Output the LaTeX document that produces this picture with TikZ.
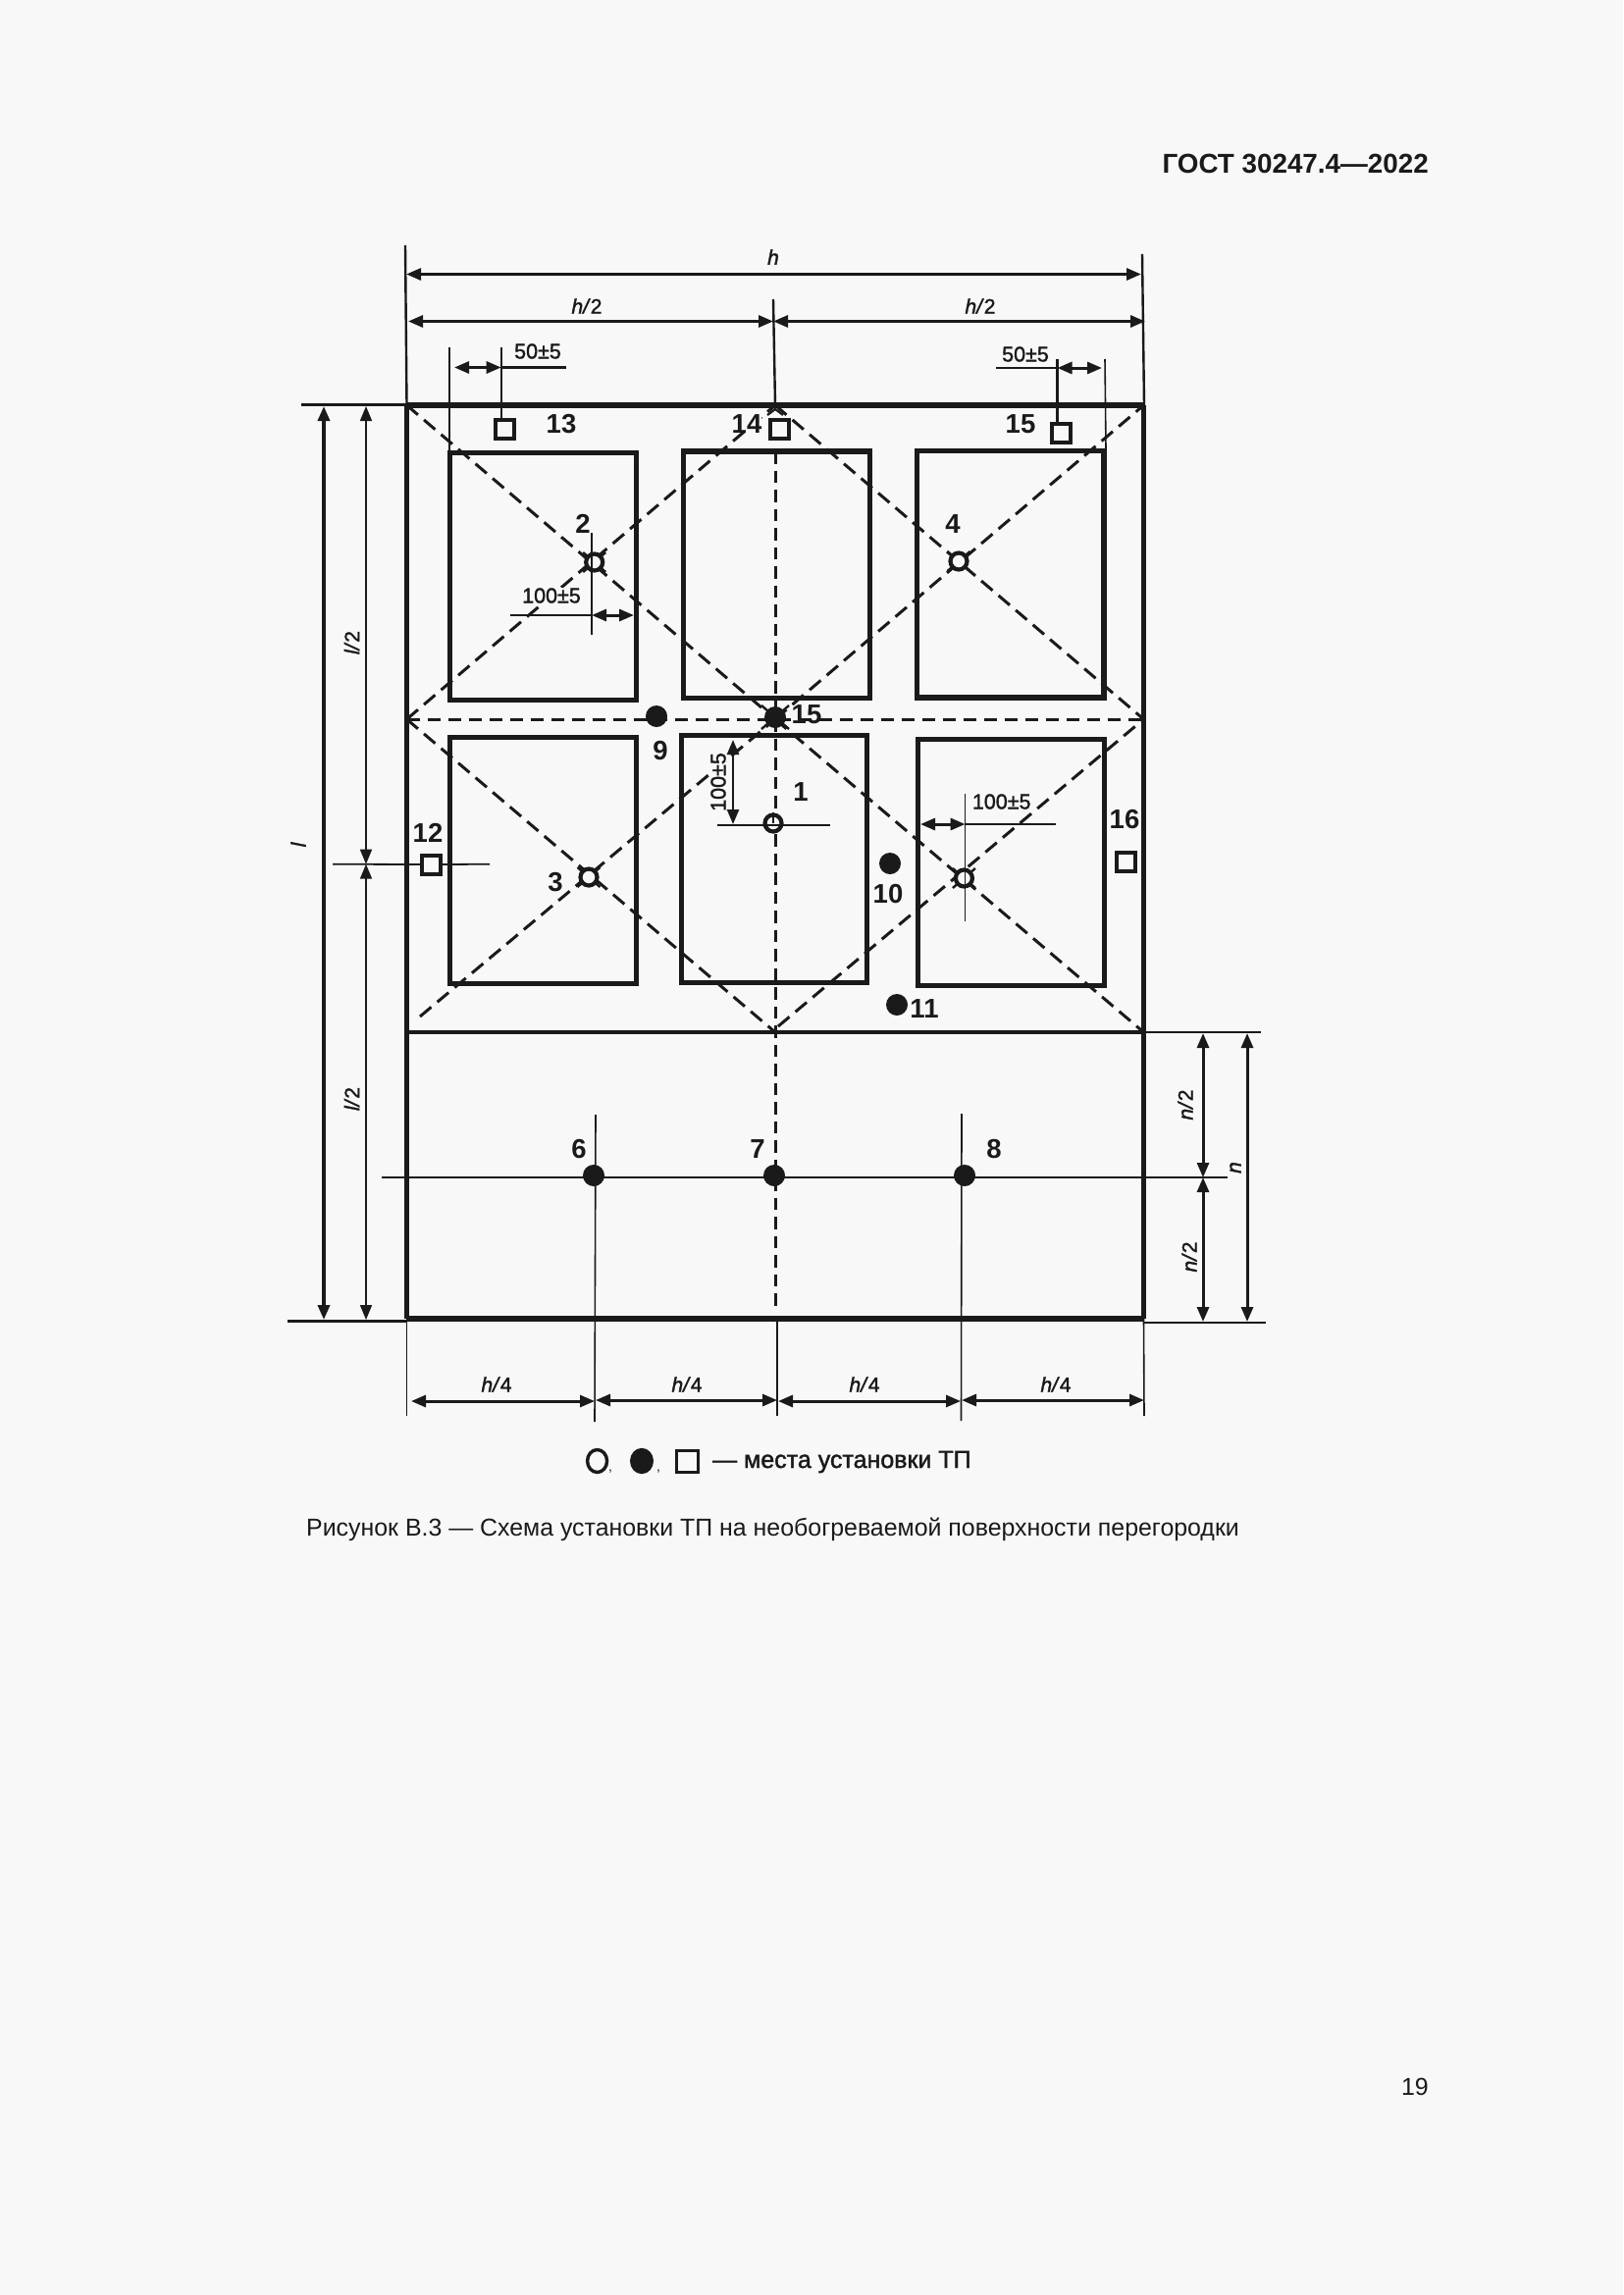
\documentclass[tikz,border=0pt]{standalone}
\usepackage{fontspec}
\setmainfont{Liberation Sans}
\newfontfamily\semif[FakeBold=1.6]{Liberation Sans}
\usetikzlibrary{arrows.meta}
\definecolor{paper}{HTML}{F8F8F8}
\definecolor{ink}{HTML}{1A1A1A}
\tikzset{
  tipA/.tip={Triangle[length=15pt,width=12pt]},
  frameline/.style={line width=5.2pt,draw=ink},
  midline/.style={line width=4pt,draw=ink},
  win/.style={line width=5.4pt,draw=ink},
  dimline/.style={line width=3pt,draw=ink,tipA-tipA},
  thindim/.style={line width=1.6pt,draw=ink,tipA-tipA},
  extline/.style={line width=2.4pt,draw=ink},
  diag/.style={line width=3pt,draw=ink,dash pattern=on 15pt off 8pt},
  vdash/.style={line width=3pt,draw=ink,dash pattern=on 12.5pt off 7pt},
  hdash/.style={line width=3pt,draw=ink,dash pattern=on 13pt off 8pt},
  num/.style={text=ink,font=\fontsize{27.5}{30}\selectfont\bfseries,inner sep=0pt},
  dimtxt/.style={text=ink,font=\semif\fontsize{21.5}{24}\selectfont,inner sep=0pt},
  dimital/.style={text=ink,font=\semif\fontsize{21}{24}\selectfont,inner sep=0pt},
  ring/.style={circle,draw=ink,fill=paper,line width=4.2pt,minimum size=17pt,inner sep=0pt},
  dot/.style={circle,fill=ink,minimum size=22pt,inner sep=0pt},
  sq/.style={rectangle,draw=ink,fill=paper,line width=4pt,minimum size=19pt,inner sep=0pt},
  xtick/.style={line width=2.4pt,draw=ink},
}
\begin{document}
\begin{tikzpicture}[x=1pt,y=-1pt]
\useasboundingbox (0,0) rectangle (1654,2339);
\fill[paper] (0,0) rectangle (1654,2339);
% frame corners
\coordinate (TL) at (414.5,413);
\coordinate (TR) at (1165.5,413);
\coordinate (BL) at (414.5,1344);
\coordinate (BR) at (1165.5,1344);
\coordinate (ML) at (414.5,733);
\coordinate (MR) at (1165.5,733);
\coordinate (LL) at (414.5,1052);
\coordinate (LR) at (1165.5,1052);
\coordinate (TC) at (790,413);
\coordinate (MC) at (790,733);
\coordinate (LC) at (790,1052);
% diagonals
\draw[diag] (TL) -- (MC);
\draw[diag] (ML) -- (TC);
\draw[diag] (TC) -- (MR);
\draw[diag] (MC) -- (TR);
\draw[diag] (ML) -- (LC);
\draw[diag] (428,1036) -- (MC);
\draw[diag] (MC) -- (LR);
\draw[diag] (793,1046) -- (MR);
\draw[hdash] (ML) -- (MR);
\draw[vdash] (790,460) -- (790,1335);
% chevron at apex
\draw[line width=2.2pt,draw=ink] (782,423) -- (790,417) -- (798,423);
% windows
\draw[win] (458.5,461.5) rectangle (648.5,713.5);
\draw[win] (696.5,460) rectangle (886.5,711.5);
\draw[win] (934.5,459.5) rectangle (1125,711);
\draw[win] (458.5,751.5) rectangle (648.5,1002.5);
\draw[win] (694.5,749.5) rectangle (883.5,1001.5);
\draw[win] (935.5,753.5) rectangle (1125.5,1004.5);
% frame
\draw[frameline] (TL) -- (TR);
\draw[frameline] (TL) -- (BL);
\draw[frameline] (TR) -- (BR);
\draw[frameline] (BL) -- (BR);
\draw[midline] (LL) -- (LR);
% top dimensions
\coordinate (exA) at (413,250);
\coordinate (exB) at (1164,259);
\coordinate (exC) at (788,305);
\draw[extline] (exA) -- (TL);
\draw[extline] (exB) -- (1166,413);
\draw[extline] (exC) -- (TC);
\draw[dimline] (414,279.5) -- (1163,279.5);
\draw[dimline] (416,327.5) -- (788,327.5);
\draw[dimline] (788,327.5) -- (1167,327.5);
\node[dimital] (lh) at (788,262) {\itshape h};
\node[dimital] (lh2a) at (598,312) {\textit{h/}2};
\node[dimital] (lh2b) at (999,312) {\textit{h/}2};
% 50+-5 left
\draw[extline] (510.7,354) -- (510.7,428);
\draw[line width=1.6pt,draw=ink] (458,354) -- (458,460);
\draw[extline] (510.7,374.5) -- (577,374.5);
\draw[dimline] (463,374.5) -- (510.7,374.5);
\node[dimtxt] (t50a) at (548,358) {50±5};
% 50+-5 right
\draw[extline] (1077.5,366) -- (1077.5,432);
\draw[line width=1.6pt,draw=ink] (1126,366) -- (1127,458);
\draw[extline] (1015,375) -- (1077.5,375);
\draw[dimline] (1077.5,375) -- (1123,375);
\node[dimtxt] (t50b) at (1045,361) {50±5};
% squares
\node[sq] (s13) at (514.5,437) {};
\node[sq] (s14) at (794.5,437) {};
\node[sq] (s15) at (1081.5,441.5) {};
\node[sq] (s12) at (439.5,881) {};
\node[sq] (s16) at (1147.5,878.5) {};
\node[num] (n13) at (572,432) {13};
\node[num,fill=paper] (n14) at (761,432) {14};
\node[num] (n15a) at (1040,432) {15};
\node[num] (n12) at (436,849) {12};
\node[num] (n16) at (1146,835) {16};
% left dimensions
\coordinate (lT) at (307,412.5);
\coordinate (lB) at (293,1346.5);
\draw[extline] (lT) -- (TL |- lT);
\draw[line width=3.4pt,draw=ink] (lB) -- (BL |- lB);
\draw[line width=1.8pt,draw=ink] (339,880.7) -- (s12.west);
\draw[line width=1.8pt,draw=ink] (s12.east) -- (499,880.7);
\draw[line width=3.4pt,draw=ink,tipA-tipA] (330,414) -- (330,1345);
\draw[thindim] (373,414) -- (373,880.7);
\draw[thindim] (373,880.7) -- (373,1345);
\node[dimital,rotate=90,fill=paper] (ll2a) at (358.6,655) {\textit{l/}2};
\node[dimital,rotate=90,fill=paper] (ll2b) at (358.6,1120) {\textit{l/}2};
\node[dimital,rotate=90] (ll) at (304,861) {\itshape l};
% right dimensions
\coordinate (rT) at (1285,1052);
\coordinate (rB) at (1290,1348);
\draw[line width=1.8pt,draw=ink] (LR) -- (rT);
\draw[line width=1.8pt,draw=ink] (BR |- rB) -- (rB);
\draw[dimline] (1226,1053) -- (1226,1200);
\draw[dimline] (1226,1200) -- (1226,1347);
\draw[dimline] (1271,1053) -- (1271,1347);
\node[dimital,rotate=90] (ln2a) at (1208,1126) {\textit{n/}2};
\node[dimital,rotate=90] (ln2b) at (1212,1281) {\textit{n/}2};
\node[dimital,rotate=90] (ln) at (1259,1190) {\itshape n};
% row 6-7-8
\draw[line width=2.6pt,draw=ink] (389,1200) -- (1251,1200);
\draw[line width=1.6pt,draw=ink] (607,1136) -- (606,1449);
\draw[line width=1.6pt,draw=ink] (980,1135) -- (979.5,1448);
\draw[line width=1.8pt,draw=ink] (792,1344) -- (792,1443);
\node[dot] (d6) at (605,1198) {};
\node[dot] (d7) at (789,1198) {};
\node[dot] (d8) at (983,1198) {};
\node[num] (n6) at (590,1171) {6};
\node[num] (n7) at (772,1171) {7};
\node[num] (n8) at (1013,1171) {8};
% h/4 dimensions
\draw[line width=1.6pt,draw=ink] (BL) -- (414.5,1443);
\draw[line width=1.6pt,draw=ink] (BR) -- (1166,1443);
\draw[dimline] (419,1428) -- (606,1428);
\draw[dimline] (607,1427) -- (792,1427);
\draw[dimline] (793,1428) -- (979,1428);
\draw[dimline] (980,1427) -- (1166,1427);
\node[dimital] (q1) at (506,1411) {\textit{h/}4};
\node[dimital] (q2) at (700,1411) {\textit{h/}4};
\node[dimital] (q3) at (881,1411) {\textit{h/}4};
\node[dimital] (q4) at (1076,1411) {\textit{h/}4};
% points 2, 4, 3, 5, 1
\foreach \cx/\cy in {605.7/573,977/572,600/894,982.4/895}{
  \draw[xtick] (\cx-11.5,\cy-10) -- (\cx+11.5,\cy+10);
  \draw[xtick] (\cx-11.5,\cy+10) -- (\cx+11.5,\cy-10);
}
\node[ring] (p2) at (605.7,573) {};
\node[ring] (p4) at (977,572) {};
\node[ring] (p3) at (600,894) {};
\node[ring] (p5) at (982.4,895) {};
\node[ring] (p1) at (788,839) {};
\node[num] (n2) at (594,534) {2};
\node[num] (n4) at (971,534) {4};
\node[num] (n3) at (566,899) {3};
\node[num] (n1) at (816,807) {1};
% point 2 dimension
\draw[line width=1.6pt,draw=ink] (603,543) -- (603,647);
\draw[extline] (520,627) -- (603,627);
\draw[dimline] (603,627) -- (646,627);
\node[dimtxt,fill=paper] (t100a) at (562,607) {100±5};
% point 5 dimension
\draw[line width=1.6pt,draw=ink] (983.6,809) -- (983.6,939);
\draw[extline] (983.6,840) -- (1076,840);
\draw[dimline] (938,840) -- (983.6,840);
\node[dimtxt,fill=paper] (t100c) at (1020.7,817) {100±5};
% point 1 dimension
\draw[line width=1.8pt,draw=ink] (731,840.7) -- (846,840.7);
\draw[line width=1.8pt,draw=ink] (788,839) -- (p1.north);
\draw[line width=2.4pt,draw=ink,tipA-tipA] (747,754) -- (747,840);
\node[dimtxt,rotate=90,fill=paper] (t100b) at (732,797) {100±5};
% dots
\foreach \cx/\cy in {790/731}{
  \draw[xtick] (\cx-14,\cy-12) -- (\cx+14,\cy+12);
  \draw[xtick] (\cx-14,\cy+12) -- (\cx+14,\cy-12);
}
\node[dot] (d15) at (790,731) {};
\node[dot] (d9) at (669,730) {};
\node[dot] (d10) at (907,880) {};
\node[dot] (d11) at (914,1024) {};
\node[num] (n15b) at (822,728) {15};
\node[num] (n9) at (673,765) {9};
\node[num] (n10) at (905,911) {10};
\node[num] (n11) at (942,1028) {11};
% legend
\node[circle,draw=ink,line width=3.4pt,minimum width=20pt,minimum height=20pt,inner sep=0pt,xscale=1,yscale=1.15] (lg1) at (608.6,1489) {};
\node[text=ink,font=\fontsize{14}{16}\selectfont,inner sep=0pt] (lgc1) at (622,1500) {,};
\node[circle,fill=ink,minimum size=24pt,inner sep=0pt,yscale=1.1] (lg2) at (654,1489) {};
\node[text=ink,font=\fontsize{14}{16}\selectfont,inner sep=0pt] (lgc2) at (671,1500) {,};
\node[rectangle,draw=ink,line width=3.4pt,minimum size=22pt,inner sep=0pt] (lg3) at (700.5,1489.5) {};
\node[anchor=west,text=ink,font=\semif\fontsize{25}{28}\selectfont,inner sep=0pt] (lgt) at (726,1490) {— места установки ТП};
% caption, header, page number
\node[text=ink,font=\fontsize{24.9}{28}\selectfont,inner sep=0pt] (cap) at (787.5,1559) {Рисунок В.3 — Схема установки ТП на необогреваемой поверхности перегородки};
\node[anchor=east,text=ink,font=\bfseries\fontsize{27.8}{30}\selectfont,inner sep=0pt] (hdr) at (1456,167) {ГОСТ 30247.4—2022};
\node[anchor=east,text=ink,font=\fontsize{24.9}{28}\selectfont,inner sep=0pt] (pg) at (1456,2127) {19};
\end{tikzpicture}
\end{document}
